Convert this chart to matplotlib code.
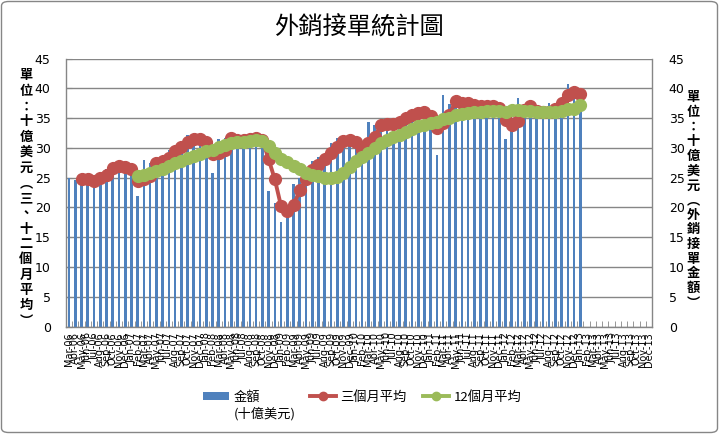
import numpy as np
import matplotlib
matplotlib.use("Agg")
import matplotlib.pyplot as plt
from matplotlib.patches import FancyBboxPatch, Patch
from matplotlib.lines import Line2D

plt.rcParams['font.family'] = ['Noto Sans CJK TC', 'DejaVu Sans']

# ---------------- data ----------------
month_names = ['Jan', 'Feb', 'Mar', 'Apr', 'May', 'Jun',
               'Jul', 'Aug', 'Sep', 'Oct', 'Nov', 'Dec']
years = [6, 7, 8, 9, 10, 11, 12, 13]
start_month_index = 2  # Mar-06
all_labels = [f"{m}-{y:02d}" for y in years for m in month_names]
x_labels = all_labels[start_month_index:]

orders = [25.0, 24.6, 24.5, 25.0, 24.1, 26.0, 26.4, 27.3, 27.0, 26.1,
          26.4, 21.9, 28.0, 27.4, 27.8, 28.6, 29.6, 30.4, 30.6, 32.2,
          30.9, 31.4, 30.7, 25.8, 31.5, 31.6, 31.7, 31.2, 31.5, 31.7,
          31.6, 31.0, 22.7, 20.7, 17.6, 19.5, 23.9, 25.0, 25.3, 27.8,
          28.4, 28.1, 30.9, 31.6, 31.3, 31.2, 30.5, 27.3, 34.3, 33.8,
          33.6, 34.5, 33.8, 35.0, 35.8, 35.6, 36.0, 35.8, 35.7, 28.8,
          38.9, 37.4, 37.3, 37.5, 36.9, 37.0, 36.8, 37.0, 37.0, 36.2,
          31.5, 35.0, 38.4, 36.0, 36.8, 36.1, 36.2, 37.6, 37.5, 38.4,
          40.7, 39.4, 36.9]

avg3_start = 2
avg3 = [24.7, 24.7, 24.5, 25.0, 25.4, 26.7, 26.9, 26.8, 26.5, 24.5,
        24.8, 25.2, 27.4, 27.8, 28.3, 29.4, 30.2, 31.0, 31.5, 31.5,
        31.0, 29.0, 29.2, 29.6, 31.6, 31.3, 31.4, 31.5, 31.7, 31.4,
        28.1, 24.7, 20.2, 19.4, 20.4, 22.9, 24.7, 26.3, 27.1, 28.1,
        29.1, 30.2, 31.2, 31.4, 31.0, 29.6, 30.8, 31.8, 33.8, 34.0,
        34.0, 34.4, 35.1, 35.6, 35.8, 36.1, 35.4, 33.3, 34.1, 35.5,
        37.9, 37.5, 37.5, 37.2, 37.0, 37.0, 37.0, 36.7, 34.7, 33.8,
        34.5, 36.4, 37.1, 36.2, 36.1, 36.1, 36.6, 37.5, 38.9, 39.4,
        39.0]

avg12_start = 11
avg12 = [25.3, 25.5, 25.8, 26.1, 26.5, 26.9, 27.4, 27.8, 28.3, 28.6,
         29.0, 29.4, 29.6, 30.1, 30.5, 30.9, 31.0, 31.0, 31.2, 31.3,
         31.2, 30.3, 29.2, 28.2, 27.6, 26.9, 26.4, 25.7, 25.5, 25.3,
         25.0, 24.9, 25.1, 25.8, 26.8, 27.8, 28.4, 29.1, 29.9, 30.8,
         31.3, 31.8, 32.2, 32.7, 33.1, 33.6, 33.8, 34.1, 34.4, 34.8,
         35.1, 35.5, 35.7, 35.9, 36.0, 36.1, 36.2, 36.2, 36.2, 36.1,
         36.4, 36.4, 36.2, 36.2, 36.1, 36.0, 36.0, 36.1, 36.2, 36.5,
         36.6, 37.2]

y_ticks = [0, 5, 10, 15, 20, 25, 30, 35, 40, 45]

title = '外銷接單統計圖'
left_label = '單位：十億美元︵三、十二個月平均︶'
right_label = '單位：十億美元︵外銷接單金額︶'
legend_labels = ['金額', '三個月平均', '12個月平均']
legend_sub = '(十億美元)'

# ---------------- figure ----------------
W, H = 719, 434
fig = plt.figure(figsize=(W / 100, H / 100), dpi=100)

# chart area border
fig.patches.append(FancyBboxPatch((1.5 / W, 1.5 / H), (W - 3) / W, (H - 3) / H,
                                  boxstyle="round,pad=0,rounding_size=0.01",
                                  transform=fig.transFigure, fill=False,
                                  edgecolor='#868686', linewidth=1.0))

left, right, top, bottom = 66, 652, 58.6, 326.5
ax = fig.add_axes([left / W, 1 - bottom / H, (right - left) / W, (bottom - top) / H])

n_cat = len(x_labels)
blue = '#4F81BD'
red = '#C0504D'
green = '#9BBB59'
grid_c = '#868686'

xb = np.arange(len(orders))
ax.bar(xb, orders, width=0.43, color=blue, zorder=2)

x3 = np.arange(avg3_start, avg3_start + len(avg3))
ax.plot(x3, avg3, color=red, lw=2.8, marker='o', ms=8.5, mec=red, mfc=red, zorder=3)
x12 = np.arange(avg12_start, avg12_start + len(avg12))
ax.plot(x12, avg12, color=green, lw=2.8, marker='o', ms=8.5, mec=green, mfc=green, zorder=4)

ax.set_xlim(-0.5, n_cat - 0.5)
ax.set_ylim(0, 45)
ax.set_yticks(y_ticks)
ax.yaxis.grid(True, color=grid_c, lw=1.0, zorder=0)
ax.set_axisbelow(True)

for s in ['left', 'right', 'bottom']:
    ax.spines[s].set_color(grid_c)
    ax.spines[s].set_linewidth(1.0)
ax.spines['top'].set_visible(False)

ax.set_xticks(np.arange(n_cat))
ax.set_xticklabels(x_labels, rotation=90, fontsize=7, family='DejaVu Sans')
ax.set_xticks(np.arange(n_cat + 1) - 0.5, minor=True)
ax.tick_params(axis='x', which='major', length=0, pad=4)
ax.tick_params(axis='x', which='minor', length=4, direction='in', color=grid_c)
ax.tick_params(axis='y', which='major', length=4, direction='in', color=grid_c,
               labelsize=9, pad=11)
for t in ax.get_yticklabels():
    t.set_family('DejaVu Sans')

ax2 = ax.twinx()
ax2.set_ylim(0, 45)
ax2.set_yticks(y_ticks)
ax2.tick_params(axis='y', length=0, labelsize=9, pad=12)
for t in ax2.get_yticklabels():
    t.set_family('DejaVu Sans')
for s in ax2.spines.values():
    s.set_visible(False)

# title
fig.text(359 / W, 1 - 27 / H, title, ha='center', va='center', fontsize=17.5)

# vertical axis titles (stacked characters)
fig.text(26 / W, 1 - 198 / H, '\n'.join(left_label), ha='center', va='center',
         fontsize=9.5, fontweight='bold', linespacing=1.12)
fig.text(693 / W, 1 - 200 / H, '\n'.join(right_label), ha='center', va='center',
         fontsize=9.5, fontweight='bold', linespacing=1.06)

# legend: three entries placed like the reference
handles = [Patch(facecolor=blue, edgecolor='none'),
           Line2D([], [], color=red, lw=2.8, marker='o', ms=6),
           Line2D([], [], color=green, lw=2.8, marker='o', ms=6)]
leg_x = [203, 310, 423]
legs = []
for h, lab, lx in zip(handles, legend_labels, leg_x):
    lg = fig.legend([h], [lab], loc='center left', bbox_to_anchor=(lx / W, 1 - 397 / H),
                    frameon=False, fontsize=9.5, handlelength=2.0, handleheight=0.5,
                    handletextpad=0.3, borderpad=0, borderaxespad=0)
    legs.append(lg)
fig.canvas.draw()
bb = legs[0].get_texts()[0].get_window_extent()
fig.text(bb.x0 / W, (bb.y0 - 3) / H, legend_sub, ha='left', va='top', fontsize=9.5)

fig.savefig('out.png', dpi=100)
